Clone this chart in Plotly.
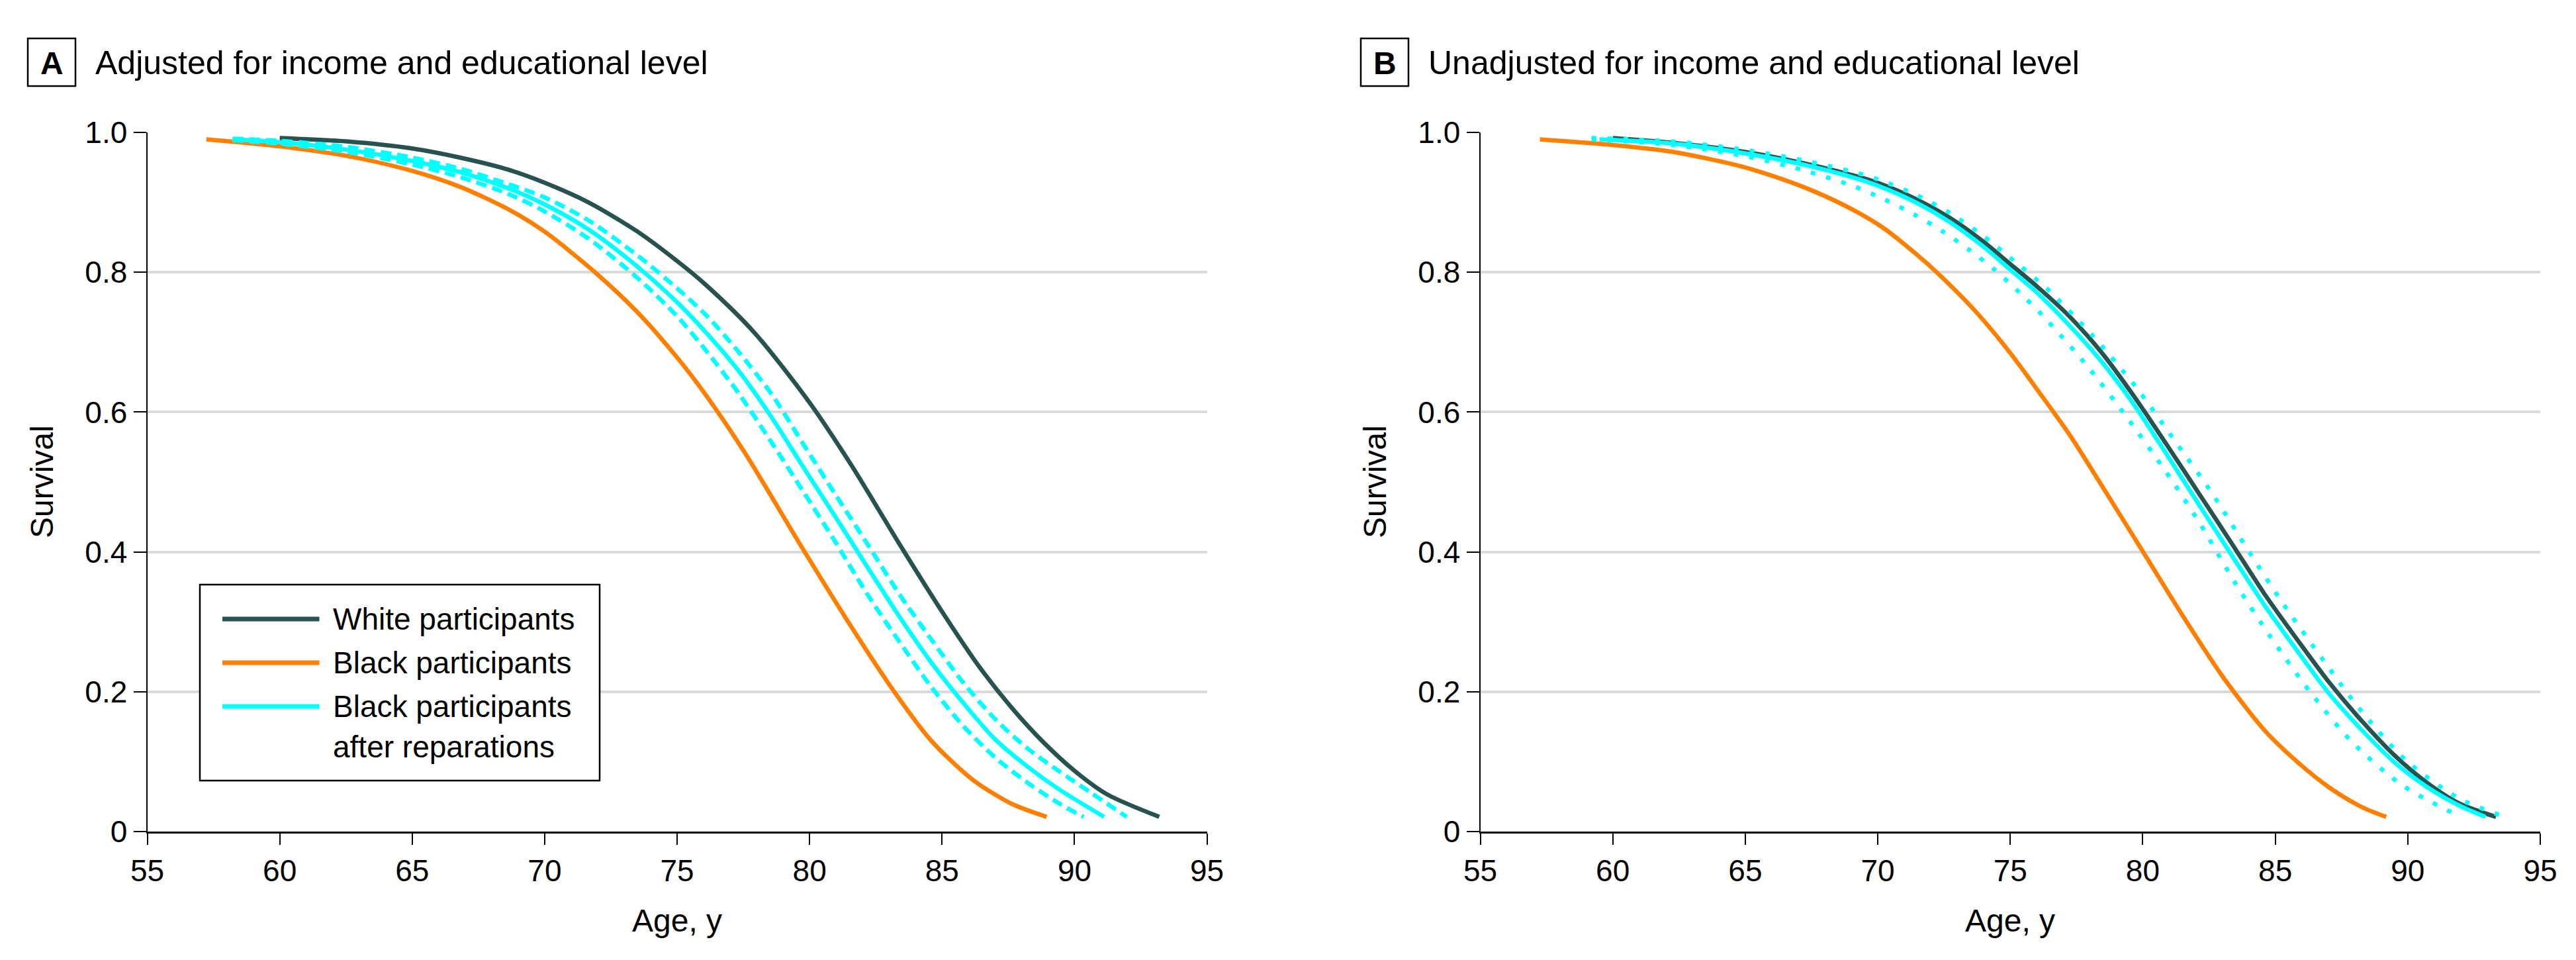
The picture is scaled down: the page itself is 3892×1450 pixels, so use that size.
import plotly.graph_objects as go

# ---------------- Data ----------------
# Panel A: adjusted for income and educational level
ageA_white = [60.0, 62.58, 65.0, 66.8, 68.6, 70.0, 71.65, 73.47, 75.0, 76.11, 77.93, 79.99, 81.56, 83.38, 85.01, 86.4, 87.61, 88.82, 90.03, 91.24, 93.2]
survA_white = [0.992, 0.987, 0.977, 0.964, 0.947, 0.928, 0.900, 0.859, 0.816, 0.781, 0.713, 0.614, 0.525, 0.412, 0.314, 0.236, 0.178, 0.128, 0.086, 0.053, 0.021]

ageA_black = [57.23, 60.0, 62.58, 65.0, 66.82, 68.63, 70.0, 71.9, 73.47, 75.0, 76.11, 77.57, 79.75, 81.44, 83.14, 84.59, 86.16, 87.61, 88.95]
survA_black = [0.990, 0.980, 0.966, 0.945, 0.922, 0.890, 0.858, 0.800, 0.744, 0.678, 0.623, 0.541, 0.404, 0.301, 0.203, 0.130, 0.074, 0.040, 0.021]

ageA_rep = [58.22, 60.0, 62.58, 65.0, 66.82, 68.63, 70.0, 71.66, 73.47, 75.0, 76.11, 77.32, 78.54, 79.75, 80.96, 82.17, 83.38, 84.59, 85.8, 87.0, 88.22, 89.43, 91.12]
survA_rep = [0.990, 0.986, 0.975, 0.959, 0.943, 0.920, 0.897, 0.861, 0.809, 0.757, 0.713, 0.659, 0.594, 0.522, 0.451, 0.379, 0.308, 0.242, 0.184, 0.132, 0.093, 0.060, 0.021]

ageA_rep_hi = [58.22, 60.0, 62.58, 65.0, 66.82, 68.63, 70.0, 71.66, 73.47, 75.0, 76.11, 77.32, 78.54, 79.75, 80.96, 82.17, 83.38, 84.59, 85.8, 87.0, 88.22, 89.43, 90.64, 91.97]
survA_rep_hi = [0.991, 0.988, 0.979, 0.964, 0.948, 0.926, 0.907, 0.874, 0.825, 0.777, 0.738, 0.686, 0.627, 0.555, 0.483, 0.412, 0.340, 0.275, 0.213, 0.161, 0.119, 0.086, 0.055, 0.021]

ageA_rep_lo = [58.22, 60.0, 62.58, 65.0, 66.82, 68.63, 70.0, 71.66, 73.47, 75.0, 76.11, 77.32, 78.54, 79.75, 80.96, 82.17, 83.38, 84.59, 85.8, 87.0, 88.22, 89.43, 90.34]
survA_rep_lo = [0.989, 0.984, 0.972, 0.954, 0.936, 0.912, 0.887, 0.848, 0.793, 0.737, 0.687, 0.627, 0.558, 0.487, 0.415, 0.340, 0.272, 0.207, 0.151, 0.106, 0.070, 0.040, 0.021]

# Panel B: unadjusted for income and educational level
ageB_white = [60.0, 62.28, 64.99, 67.19, 69.03, 69.99, 71.48, 72.71, 73.94, 74.99, 76.0, 77.23, 78.45, 79.68, 80.91, 82.13, 83.36, 84.59, 85.82, 87.04, 88.27, 89.5, 90.72, 91.95, 93.33]
survB_white = [0.992, 0.985, 0.972, 0.956, 0.939, 0.928, 0.904, 0.878, 0.845, 0.812, 0.780, 0.737, 0.685, 0.622, 0.553, 0.483, 0.412, 0.340, 0.275, 0.213, 0.158, 0.109, 0.070, 0.040, 0.021]

ageB_black = [57.25, 60.0, 62.28, 64.99, 67.19, 69.03, 70.26, 71.48, 72.22, 73.69, 74.99, 76.0, 77.23, 78.45, 79.93, 81.52, 82.99, 84.59, 85.82, 87.04, 88.27, 89.19]
survB_black = [0.990, 0.982, 0.972, 0.950, 0.922, 0.890, 0.862, 0.825, 0.800, 0.744, 0.685, 0.633, 0.568, 0.495, 0.405, 0.308, 0.223, 0.145, 0.100, 0.063, 0.035, 0.021]

ageB_rep = [59.5, 62.28, 64.99, 67.19, 69.03, 69.99, 71.48, 72.71, 73.94, 74.99, 76.0, 77.23, 78.45, 79.68, 80.91, 82.13, 83.36, 84.59, 85.82, 87.04, 88.27, 89.5, 90.72, 91.95, 92.93]
survB_rep = [0.990, 0.984, 0.970, 0.954, 0.936, 0.924, 0.899, 0.872, 0.838, 0.804, 0.771, 0.724, 0.672, 0.610, 0.539, 0.467, 0.395, 0.324, 0.259, 0.197, 0.145, 0.099, 0.064, 0.037, 0.021]

ageB_rep_hi = [59.2, 62.28, 64.99, 67.19, 69.03, 70.0, 71.48, 72.71, 73.94, 74.99, 76.37, 78.09, 79.74, 81.15, 82.63, 83.98, 85.33, 86.74, 88.15, 89.93, 91.95, 93.67]
survB_rep_hi = [0.992, 0.987, 0.975, 0.960, 0.944, 0.933, 0.910, 0.885, 0.853, 0.821, 0.777, 0.710, 0.636, 0.562, 0.483, 0.402, 0.324, 0.249, 0.177, 0.102, 0.047, 0.021]

ageB_rep_lo = [59.2, 62.28, 64.99, 67.19, 69.09, 70.26, 71.36, 72.47, 73.45, 74.43, 75.35, 76.25, 77.9, 79.37, 80.85, 82.2, 83.48, 84.83, 86.31, 87.9, 89.8, 92.0]
survB_rep_lo = [0.990, 0.982, 0.966, 0.946, 0.923, 0.904, 0.883, 0.858, 0.832, 0.803, 0.771, 0.737, 0.666, 0.594, 0.516, 0.438, 0.356, 0.278, 0.200, 0.128, 0.066, 0.021]

x_ticks = [55, 60, 65, 70, 75, 80, 85, 90, 95]
y_ticks = [0, 0.2, 0.4, 0.6, 0.8, 1.0]
y_ticktext = ["0", "0.2", "0.4", "0.6", "0.8", "1.0"]

series_names = ["White participants", "Black participants", "Black participants after reparations"]
panel_titles = ["Adjusted for income and educational level", "Unadjusted for income and educational level"]
panel_letters = ["A", "B"]

# ---------------- Styling ----------------
W, H = 3892, 1450
FONT = "Liberation Sans, Arial, Helvetica, sans-serif"
C_WHITE = "#27524f"
C_BLACK = "#ff7f00"
C_REP = "#00ffff"
LW = 6.5

def px(x):
    return x / W

def py(y):
    return 1 - y / H

fig = go.Figure()

def add_line(x, y, color, xa, ya, dash="solid", name=None):
    fig.add_trace(go.Scatter(
        x=x, y=y, mode="lines", name=name, showlegend=False,
        line=dict(color=color, width=LW, dash=dash, shape="spline", smoothing=0.8),
        xaxis=xa, yaxis=ya, hoverinfo="skip"))

# Panel A
add_line(ageA_white, survA_white, C_WHITE, "x", "y", name=series_names[0])
add_line(ageA_black, survA_black, C_BLACK, "x", "y", name=series_names[1])
add_line(ageA_rep, survA_rep, C_REP, "x", "y", name=series_names[2])
add_line(ageA_rep_hi, survA_rep_hi, C_REP, "x", "y", dash="16px,9px")
add_line(ageA_rep_lo, survA_rep_lo, C_REP, "x", "y", dash="16px,9px")

# Panel B
add_line(ageB_white, survB_white, C_WHITE, "x2", "y2", name=series_names[0])
add_line(ageB_black, survB_black, C_BLACK, "x2", "y2", name=series_names[1])
add_line(ageB_rep, survB_rep, C_REP, "x2", "y2", name=series_names[2])
add_line(ageB_rep_hi, survB_rep_hi, C_REP, "x2", "y2", dash="7px,17px")
add_line(ageB_rep_lo, survB_rep_lo, C_REP, "x2", "y2", dash="7px,17px")

# Plot area geometry (px)
A_left, A_right = 214.5, 1815.6
B_left, B_right = 2228.5, 3830.0
P_top, P_bottom = 192.0, 1248.0

xaxis_common = dict(
    range=[55, 95], tickvals=x_ticks, ticks="outside", ticklen=17, tickwidth=2,
    tickcolor="black", showline=True, linecolor="black", linewidth=3,
    showgrid=False, zeroline=False, automargin=False,
    tickfont=dict(family=FONT, size=46, color="black"), fixedrange=True)
yaxis_common = dict(
    range=[0, 1.0], tickvals=y_ticks, ticktext=y_ticktext, ticks="outside",
    ticklen=19, tickwidth=2, tickcolor="black", showline=True, linecolor="black",
    linewidth=2, showgrid=True, gridcolor="#d9d9d9", gridwidth=4, zeroline=False,
    automargin=False,
    tickfont=dict(family=FONT, size=46, color="black"), fixedrange=True,
    domain=[py(P_bottom), py(P_top)])

fig.update_layout(
    width=W, height=H, autosize=False,
    margin=dict(l=0, r=0, t=0, b=0, pad=0, autoexpand=False),
    paper_bgcolor="white", plot_bgcolor="white",
    showlegend=False,
    font=dict(family=FONT, color="black"),
    xaxis=dict(domain=[px(A_left), px(A_right)], anchor="y", **xaxis_common),
    yaxis=dict(anchor="x", **yaxis_common),
    xaxis2=dict(domain=[px(B_left), px(B_right)], anchor="y2", **xaxis_common),
    yaxis2=dict(anchor="x2", **yaxis_common),
)

shapes = []
annotations = []

# Panel titles with boxed letters, axis titles
for i, (left, letter, title) in enumerate(zip([A_left, B_left], panel_letters, panel_titles)):
    off = left - A_left
    bx0, bx1 = 34 + off, 106 + off
    shapes.append(dict(type="rect", xref="paper", yref="paper",
                       x0=px(bx0), x1=px(bx1), y0=py(122), y1=py(50),
                       line=dict(color="black", width=2.5), fillcolor="rgba(0,0,0,0)"))
    annotations.append(dict(xref="paper", yref="paper", x=px((bx0 + bx1) / 2), y=py(87),
                            text="<b>%s</b>" % letter, showarrow=False,
                            xanchor="center", yanchor="middle",
                            font=dict(family=FONT, size=48, color="black")))
    annotations.append(dict(xref="paper", yref="paper", x=px(134 + off), y=py(87),
                            text=title, showarrow=False, xanchor="left", yanchor="middle",
                            font=dict(family=FONT, size=50, color="black")))
    annotations.append(dict(xref="paper", yref="paper", x=px(left + (A_right - A_left) / 2), y=py(1382),
                            text="Age, y", showarrow=False, xanchor="center", yanchor="middle",
                            font=dict(family=FONT, size=48, color="black")))
    annotations.append(dict(xref="paper", yref="paper", x=px(55 + off), y=py(720),
                            text="Survival", showarrow=False, xanchor="center", yanchor="middle",
                            textangle=-90, font=dict(family=FONT, size=48, color="black")))

# Manual legend in panel A
shapes.append(dict(type="rect", xref="paper", yref="paper", layer="above",
                   x0=px(294), x1=px(898), y0=py(1171), y1=py(875),
                   line=dict(color="black", width=2.5), fillcolor="white"))
legend_rows = [(C_WHITE, 927), (C_BLACK, 993), (C_REP, 1059)]
for color, yy in legend_rows:
    shapes.append(dict(type="line", xref="paper", yref="paper", layer="above",
                       x0=px(328), x1=px(474.5), y0=py(yy), y1=py(yy),
                       line=dict(color=color, width=7)))
legend_text = [("White participants", 927), ("Black participants", 993),
               ("Black participants", 1059), ("after reparations", 1120)]
for txt, yy in legend_text:
    annotations.append(dict(xref="paper", yref="paper", x=px(493), y=py(yy),
                            text=txt, showarrow=False, xanchor="left", yanchor="middle",
                            font=dict(family=FONT, size=46, color="black")))

fig.update_layout(shapes=shapes, annotations=annotations)

fig.write_html("out.html")
